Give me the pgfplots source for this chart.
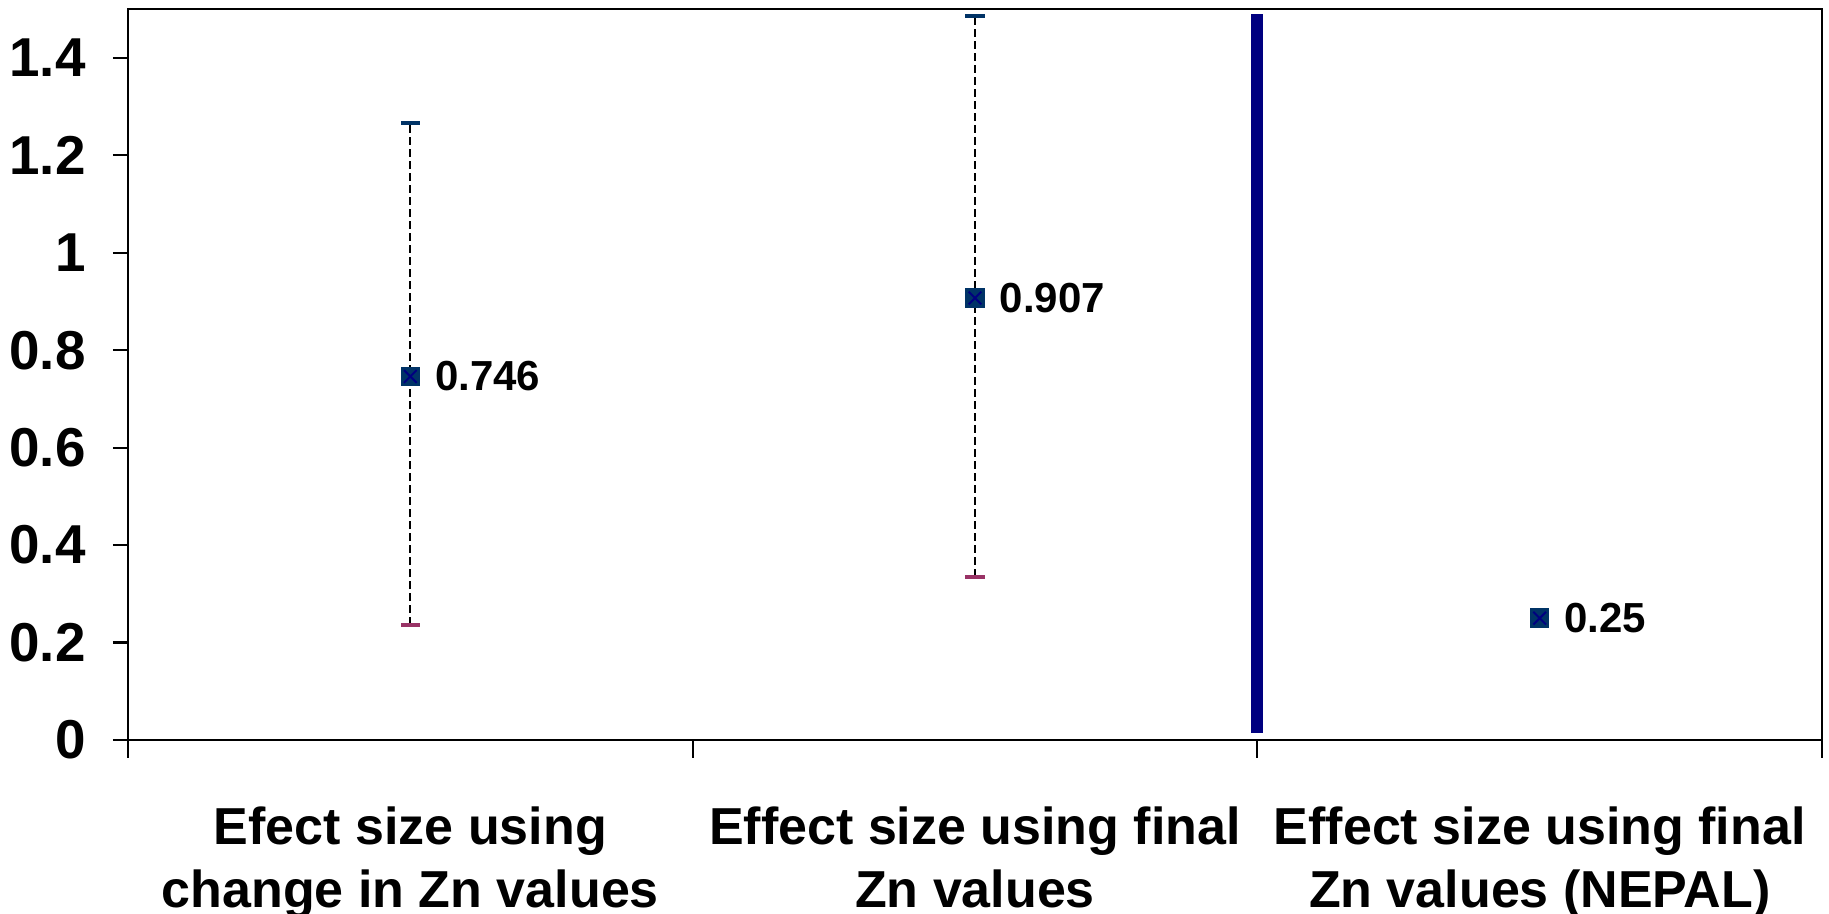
\documentclass[border=0pt]{standalone}
\usepackage{fontspec}
\setmainfont{Liberation Sans}
\usepackage{pgfplots}
\pgfplotsset{compat=1.18}
\definecolor{mk}{HTML}{003366}
\definecolor{mx}{HTML}{000080}
\definecolor{lowc}{HTML}{993366}
\definecolor{navyline}{HTML}{000080}
\begin{document}
\begin{tikzpicture}
\begin{axis}[
  name=ax,
  scale only axis, width=423.5pt, height=182.75pt,
  xmin=0, xmax=3, ymin=0, ymax=1.5,
  clip=false,
  axis line style={black, line width=0.55pt},
  tick align=outside,
  major tick length=3.8pt,
  minor tick length=4.4pt,
  xtick={0.5,1.5,2.5},
  xticklabels={{Efect size using\\change in Zn values},{Effect size using final\\Zn values},{Effect size using final\\Zn values (NEPAL)}},
  minor xtick={0,1,2,3},
  major x tick style={draw=none},
  minor x tick style={black, line width=0.55pt},
  ytick={0,0.2,0.4,0.6,0.8,1,1.2,1.4},
  yticklabels={0,0.2,0.4,0.6,0.8,1,1.2,1.4},
  y tick style={black, line width=0.55pt},
  ytick pos=left,
  xtick pos=bottom,
  xticklabel style={font=\bfseries\fontsize{13}{15.75}\selectfont, align=center, anchor=north, inner sep=0pt, yshift=-12.6pt},
  yticklabel style={font=\bfseries\fontsize{13.7}{16}\selectfont, anchor=east, inner sep=0pt, xshift=-6.6pt},
]
% thick divider line
\addplot[navyline, line width=3pt] coordinates {(2,0.015) (2,1.49)};
% high-low dashed lines
\addplot[black, line width=0.5pt, dash pattern=on 2pt off 1pt] coordinates {(0.5,0.236) (0.5,1.267)};
\addplot[black, line width=0.5pt, dash pattern=on 2pt off 1pt] coordinates {(1.5,0.335) (1.5,1.485)};
% high caps
\addplot[only marks, mark=-, mark size=2.4pt, mark options={draw=mk, line width=1pt}] coordinates {(0.5,1.267) (1.5,1.485)};
% low caps
\addplot[only marks, mark=-, mark size=2.4pt, mark options={draw=lowc, line width=1pt}] coordinates {(0.5,0.236) (1.5,0.335)};
% markers
\addplot[only marks, mark=square*, mark size=2.25pt, mark options={fill=mk, draw=mk}] coordinates {(0.5,0.746) (1.5,0.907) (2.5,0.25)};
\addplot[only marks, mark=x, mark size=2.25pt, mark options={draw=mx, line width=0.5pt}] coordinates {(0.5,0.746) (1.5,0.907) (2.5,0.25)};
% labels
\addplot[draw=none, mark=none, point meta=explicit symbolic, nodes near coords,
  nodes near coords style={anchor=west, inner sep=0pt, xshift=6pt, font=\bfseries\fontsize{10.5}{12}\selectfont, text=black}]
  coordinates {(0.5,0.746) [0.746] (1.5,0.907) [0.907] (2.5,0.25) [0.25]};
\end{axis}
\pgfresetboundingbox
\path[use as bounding box] ([xshift=-32pt,yshift=-43.25pt]ax.south west) rectangle ([xshift=1.75pt,yshift=2.25pt]ax.north east);
\end{tikzpicture}
\end{document}
